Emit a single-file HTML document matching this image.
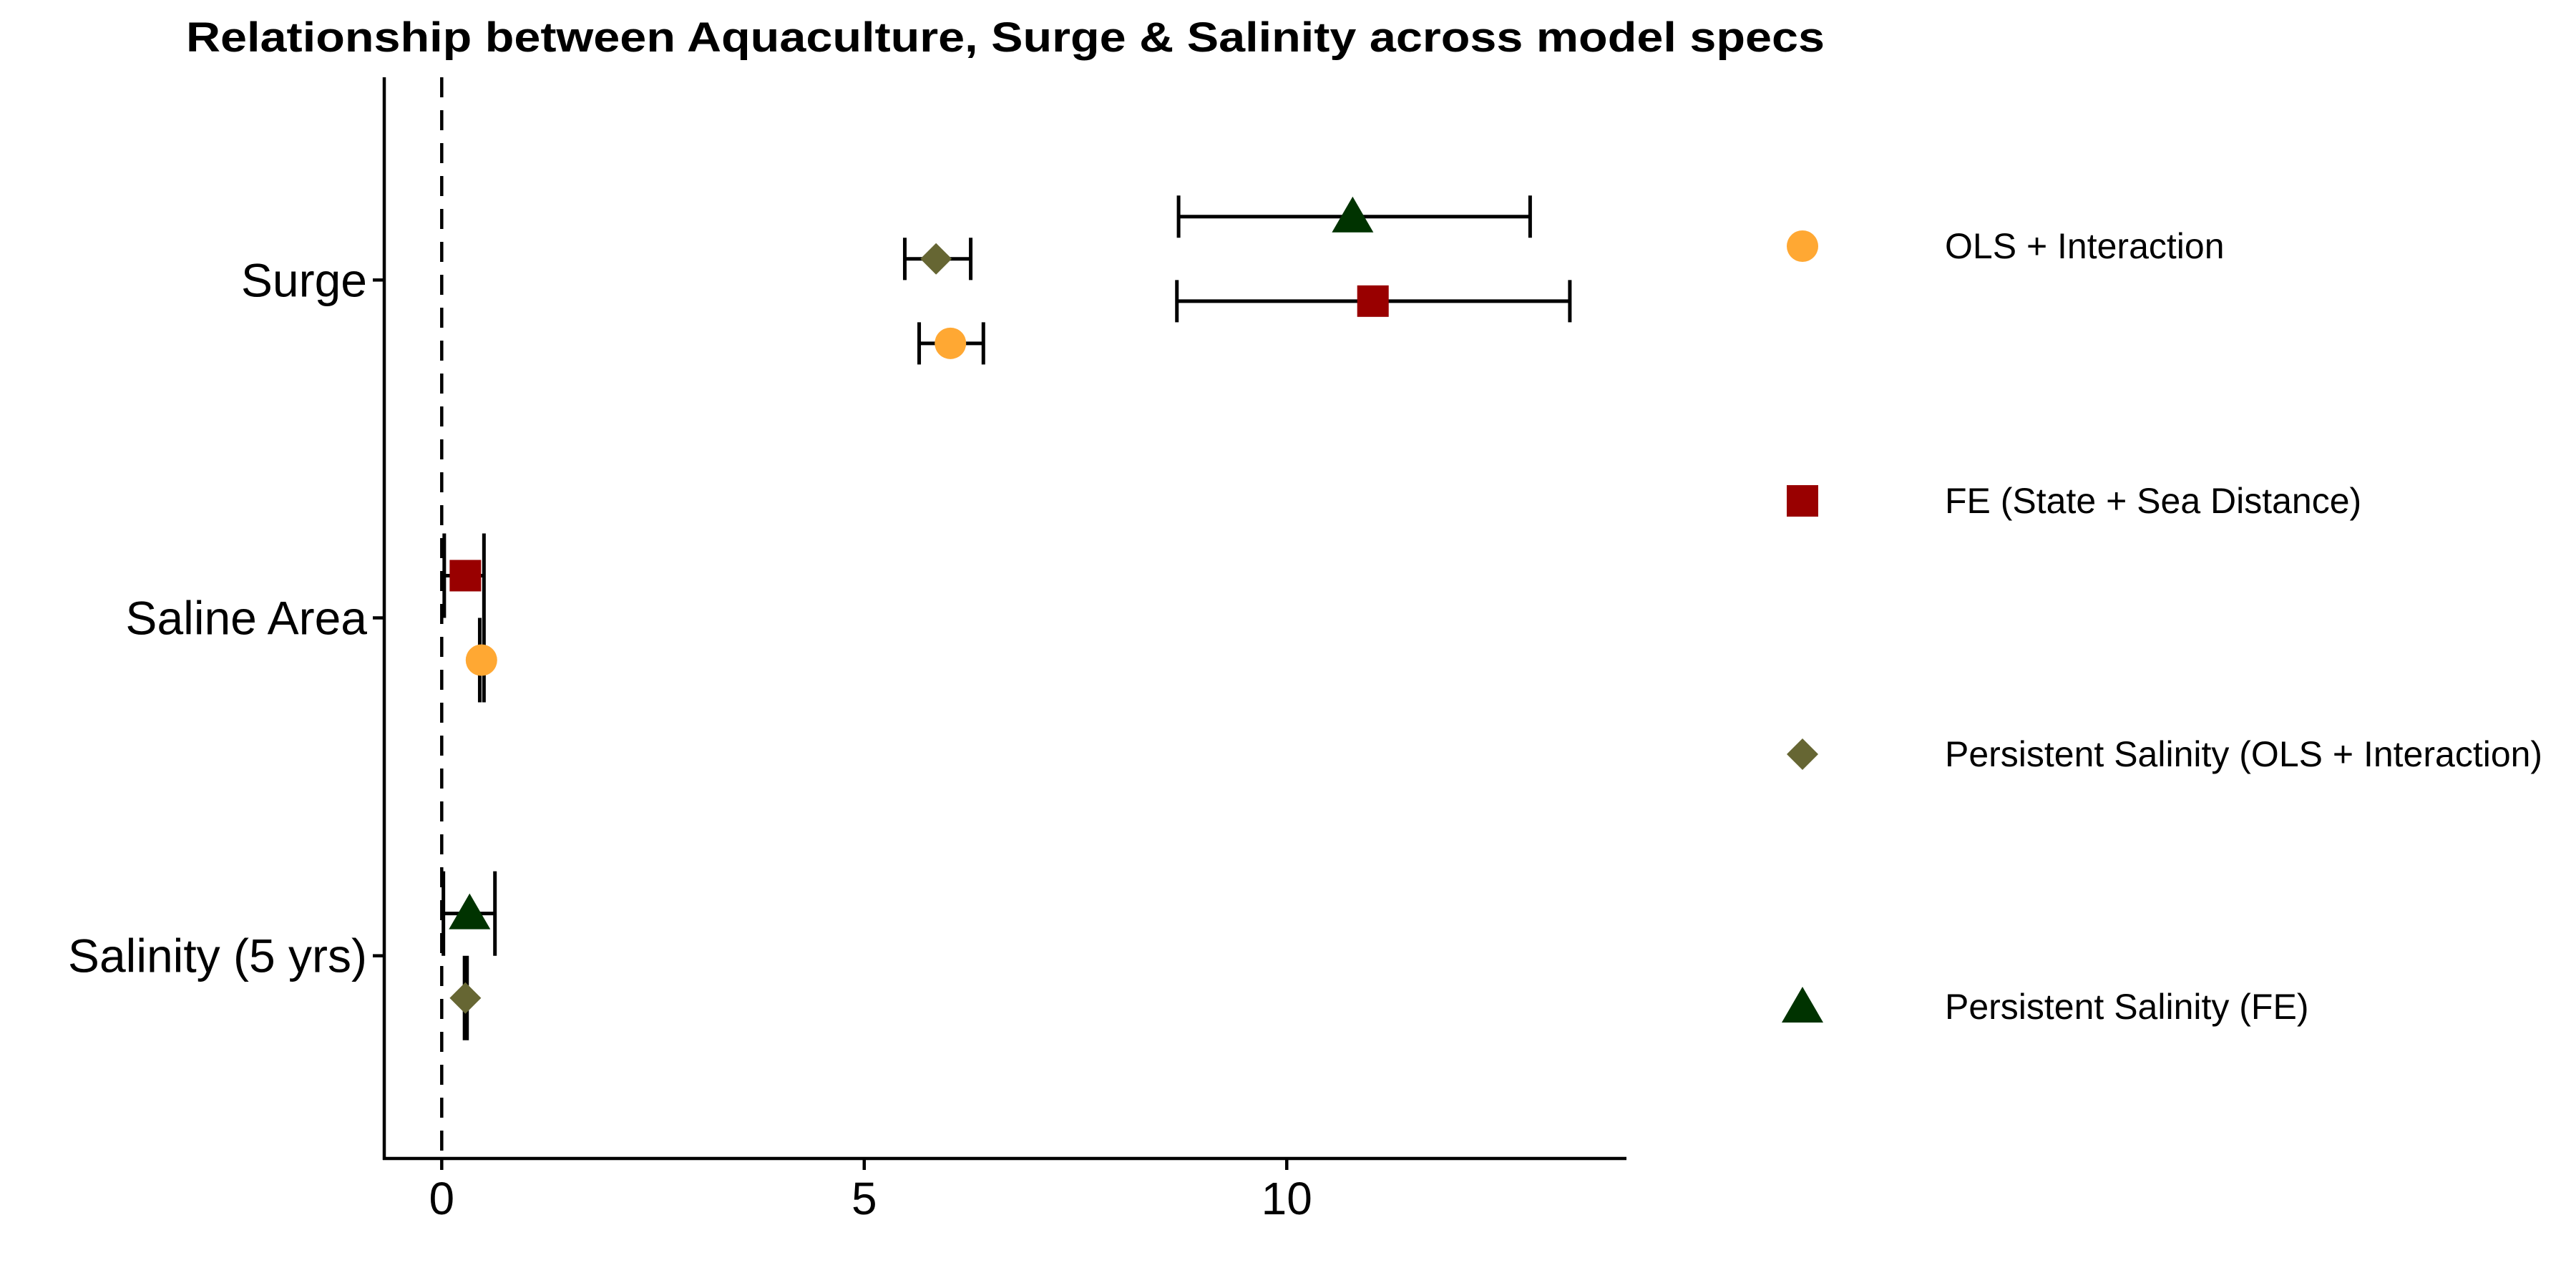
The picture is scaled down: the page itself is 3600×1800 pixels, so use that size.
<!DOCTYPE html>
<html><head><meta charset="utf-8"><style>html,body{margin:0;padding:0;background:#fff}svg{display:block}</style></head>
<body>
<svg id="chart" xmlns="http://www.w3.org/2000/svg" width="3600" height="1800" viewBox="0 0 3600 1800">
<rect width="3600" height="1800" fill="#fff"/>
<text x="260" y="72" font-family="Liberation Sans, sans-serif" font-weight="bold" font-size="58" textLength="2290" lengthAdjust="spacingAndGlyphs">Relationship between Aquaculture, Surge &amp; Salinity across model specs</text>
<g id="plot"></g>
<g id="legend"></g>
</svg>
<script>
const categories = ["Salinity (5 yrs)", "Saline Area", "Surge"];
const seriesNames = ["OLS + Interaction", "FE (State + Sea Distance)", "Persistent Salinity (OLS + Interaction)", "Persistent Salinity (FE)"];
const seriesColors = ["#FFA833", "#990000", "#666633", "#003300"];
const seriesShapes = ["circle", "square", "diamond", "triangle"];
const pointCategory = [2, 2, 2, 2, 1, 1, 0, 0];
const pointSeries   = [0, 1, 2, 3, 0, 1, 2, 3];
const estimates     = [6.02, 11.02, 5.85, 10.78, 0.47, 0.28, 0.28, 0.33];
const lowValues     = [5.65, 8.70, 5.48, 8.72, 0.45, 0.03, 0.27, 0.02];
const highValues    = [6.41, 13.35, 6.26, 12.88, 0.50, 0.50, 0.30, 0.63];
const dodgeOffsets  = [-0.1875, -0.0625, 0.0625, 0.1875, -0.125, 0.125, -0.125, 0.125];
const capHeights    = [0.125, 0.125, 0.125, 0.125, 0.25, 0.25, 0.25, 0.25];
const xTicks = [0, 5, 10];
const xTickLabels = ["0", "5", "10"];

const NS = "http://www.w3.org/2000/svg";
const L = 537, R = 2273, T = 108, B = 1619;
const xMin = -0.68, xMax = 14.02, yMin = 0.4, yMax = 3.6;
const xScale = v => L + (v - xMin) / (xMax - xMin) * (R - L);
const yScale = v => B - (v - yMin) / (yMax - yMin) * (B - T);
function mk(tag, attrs, parent) { const e = document.createElementNS(NS, tag); for (const k in attrs) e.setAttribute(k, attrs[k]); parent.appendChild(e); return e; }
function shape(kind, cx, cy, color, parent) {
  let e;
  if (kind === "circle") e = mk("circle", {cx, cy, r: 22, fill: color}, parent);
  else if (kind === "square") e = mk("rect", {x: cx - 22, y: cy - 22, width: 44, height: 44, fill: color}, parent);
  else if (kind === "diamond") e = mk("polygon", {points: `${cx},${cy-22} ${cx+22},${cy} ${cx},${cy+22} ${cx-22},${cy}`, fill: color}, parent);
  else e = mk("polygon", {points: `${cx},${cy-28} ${cx+29},${cy+22} ${cx-29},${cy+22}`, fill: color}, parent);
  return e;
}
const plot = document.getElementById("plot");
const zl = mk("line", {x1: xScale(0), x2: xScale(0), y1: T, y2: B, stroke: "#000", "stroke-width": 4.5, "stroke-dasharray": "28 18"}, plot);


const ya = mk("line", {x1: L, x2: L, y1: T, y2: B + 2, stroke: "#000", "stroke-width": 4.5}, plot);


const xa = mk("line", {x1: L - 2, x2: R, y1: B, y2: B, stroke: "#000", "stroke-width": 4.5}, plot);


xTicks.forEach((t, i) => {
  const tk = mk("line", {x1: xScale(t), x2: xScale(t), y1: B, y2: B + 16, stroke: "#000", "stroke-width": 4.5}, plot);
  
  
  const tl = mk("text", {x: xScale(t), y: B + 78, "text-anchor": "middle", "font-family": "Liberation Sans, sans-serif", "font-size": 64}, plot);
  tl.textContent = xTickLabels[i];
  
  
});
categories.forEach((c, i) => {
  const y = yScale(i + 1);
  const tk = mk("line", {x1: L - 16, x2: L, y1: y, y2: y, stroke: "#000", "stroke-width": 4.5}, plot);
  
  
  const tl = mk("text", {x: L - 24, y: y + 23, "text-anchor": "end", "font-family": "Liberation Sans, sans-serif", "font-size": 66}, plot);
  tl.textContent = c;
  
  
});
estimates.forEach((v, i) => {
  const yv = pointCategory[i] + 1 + dodgeOffsets[i];
  const y = yScale(yv);
  const h = (capHeights[i] / 2) * (B - T) / (yMax - yMin);
  const g = mk("g", {}, plot);
  
  
  const x1 = xScale(lowValues[i]), x2 = xScale(highValues[i]);
  const eb = mk("path", {d: `M${x1},${y-h}V${y+h}M${x2},${y-h}V${y+h}M${x1},${y}H${x2}`, stroke: "#000", "stroke-width": 5, fill: "none"}, g);
  
  
  const s = pointSeries[i];
  const m = shape(seriesShapes[s], xScale(v), y, seriesColors[s], g);
  
  
});
const legend = document.getElementById("legend");
const legendY = [344, 700, 1054, 1407];
seriesNames.forEach((n, i) => {
  const g = mk("g", {}, legend);
  
  
  const m = shape(seriesShapes[i], 2519, legendY[i], seriesColors[i], g);
  
  
  const t = mk("text", {x: 2718, y: legendY[i] + 17, "font-family": "Liberation Sans, sans-serif", "font-size": 50}, g);
  t.textContent = n;
  
  
});
</script>
</body></html>
